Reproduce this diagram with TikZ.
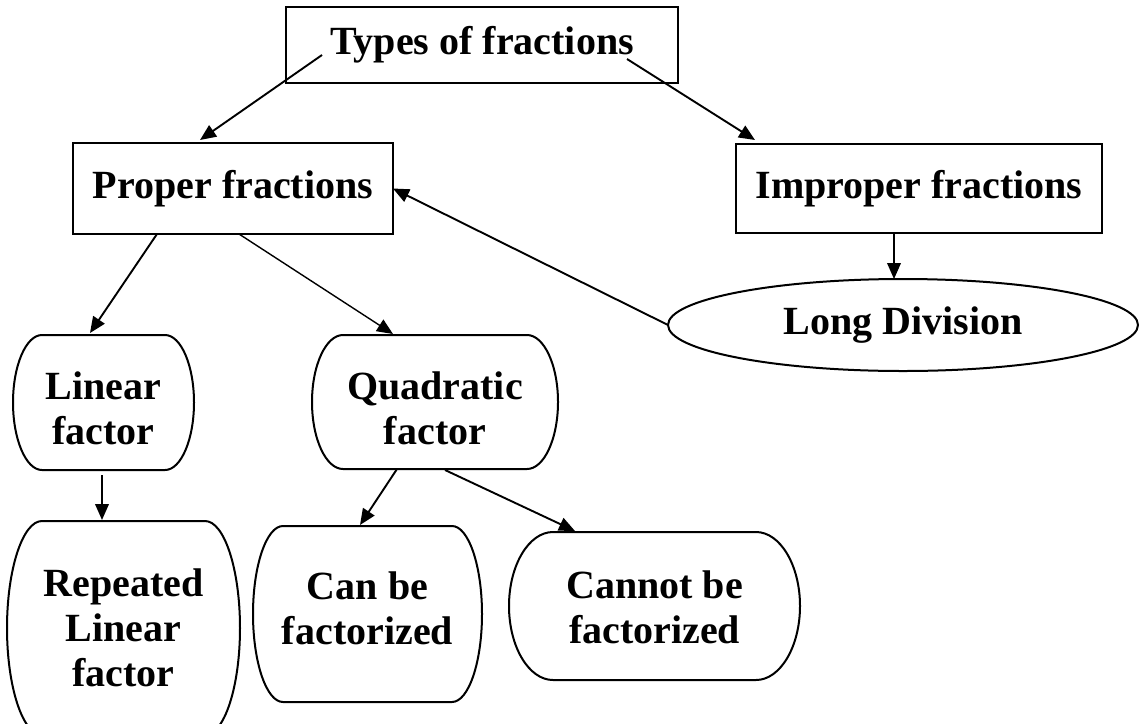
\documentclass[tikz,border=0pt]{standalone}
\usepackage{fontspec}
\setmainfont{Liberation Serif}
\usetikzlibrary{arrows.meta,shapes.geometric,calc}
\newcommand\barrelpath[2]{%
  \draw[boxline] ($(#1.north west)+(#2,0)$) -- ($(#1.north east)+(-#2,0)$)
   .. controls ($(#1.north east)+(-0.45*#2,0)$) and ($(#1.east)!0.55!(#1.north east)$) .. (#1.east)
   .. controls ($(#1.east)!0.55!(#1.south east)$) and ($(#1.south east)+(-0.45*#2,0)$) .. ($(#1.south east)+(-#2,0)$)
   -- ($(#1.south west)+(#2,0)$)
   .. controls ($(#1.south west)+(0.45*#2,0)$) and ($(#1.west)!0.55!(#1.south west)$) .. (#1.west)
   .. controls ($(#1.west)!0.55!(#1.north west)$) and ($(#1.north west)+(0.45*#2,0)$) .. cycle;
}
\begin{document}
\begin{tikzpicture}[x=0.5pt,y=-0.5pt,
  every node/.style={font=\bfseries\fontsize{20}{22.5}\selectfont, align=center, inner sep=0pt, outer sep=0pt},
  rectbox/.style={draw, line width=1pt, rectangle},
  barrel/.style={rectangle},
  boxline/.style={line width=1pt},
  arr/.style={line width=0.95pt, -{Triangle[length=8pt,width=6.8pt]}}]
\useasboundingbox (0,0) rectangle (1139,723);
\clip (0,0) rectangle (1139,723);
\fill[white] (0,0) rectangle (1139,723);

\node[rectbox, minimum width=196pt, minimum height=38pt] (types) at (482,45) {Types of fractions};
\node[rectbox, minimum width=160pt, minimum height=45.5pt] (proper) at (233,188.5) {Proper fractions};
\node[rectbox, minimum width=183pt, minimum height=44.5pt] (improper) at (919,188.5) {Improper fractions};
\node[draw, ellipse, line width=1pt, minimum width=235pt, minimum height=46pt] (long) at (903,325) {Long Division};

\node[barrel, minimum width=90.5pt, minimum height=67.5pt] (linear) at (103.5,402.5) {};
\node[barrel, minimum width=123pt, minimum height=67pt] (quad) at (435,402) {};
\node[barrel, minimum width=116.5pt, minimum height=107pt] (repeated) at (123.5,628) {};
\node[barrel, minimum width=114.5pt, minimum height=88pt] (can) at (367.5,614) {};
\node[barrel, minimum width=145.5pt, minimum height=74pt] (cannot) at (654.5,606) {};

\node (linearT) at (103.5,408) {Linear\\factor};
\node (quadT) at (435,408) {Quadratic\\factor};
\node (repeatedT) at (123.5,628) {Repeated\\Linear\\factor};
\node (canT) at (367.5,608) {Can be\\factorized};
\node (cannotT) at (654.5,607) {Cannot be\\factorized};

\barrelpath{linear}{29}
\barrelpath{quad}{31}
\barrelpath{repeated}{35}
\barrelpath{can}{30}
\barrelpath{cannot}{44}

\coordinate (t1) at (322,55);
\coordinate (t2) at (627,59);
\coordinate (pTop) at (200,140);
\coordinate (iTop) at (755,140);
\coordinate (p1) at (157,234);
\coordinate (p2) at (239,234);
\coordinate (lTop) at (90,333);
\coordinate (qTop) at (393,334);
\coordinate (iBot) at (894,233);
\coordinate (lgTop) at (894,279);
\coordinate (lBot) at (102,475);
\coordinate (rTop) at (102,520);
\coordinate (qb1) at (397,469);
\coordinate (cTop) at (360,525);
\coordinate (qb2) at (445,470);
\coordinate (nTop) at (575,531);

\draw[arr] (t1) -- (pTop);
\draw[arr] (t2) -- (iTop);
\draw[arr] (p1) -- (lTop);
\draw[arr, line width=0.7pt] (p2) -- (qTop);
\draw[arr] (long.west) -- (proper.east);
\draw[arr] (iBot) -- (lgTop);
\draw[arr] (lBot) -- (rTop);
\draw[arr] (qb1) -- (cTop);
\draw[arr] (qb2) -- (nTop);
\end{tikzpicture}
\end{document}
